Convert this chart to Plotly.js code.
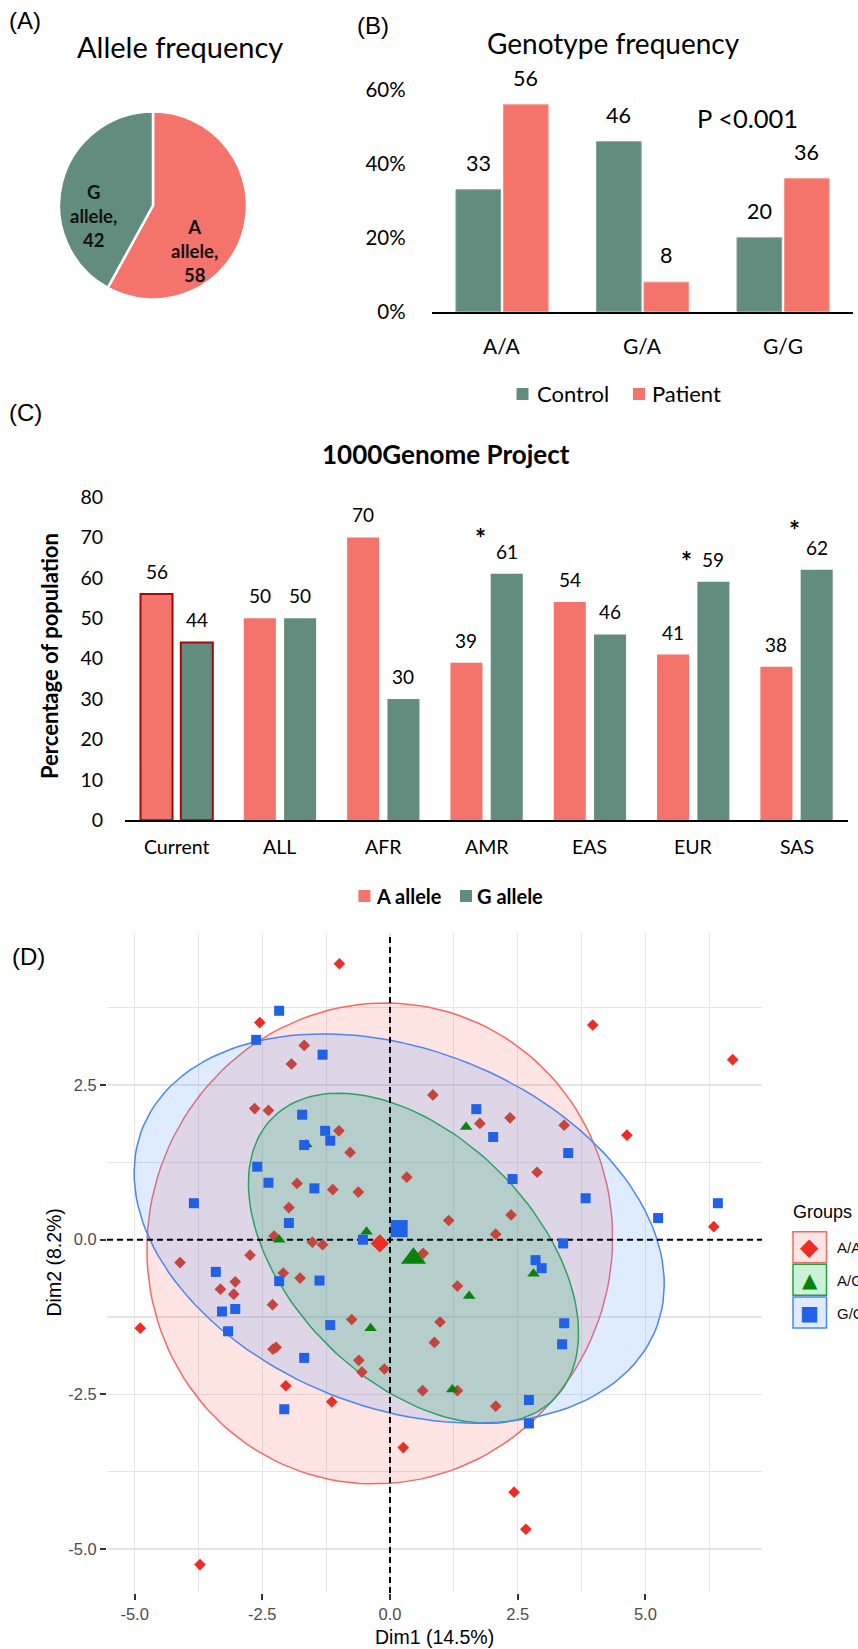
<!DOCTYPE html>
<html>
<head>
<meta charset="utf-8">
<script src="https://cdn.plot.ly/plotly-3.0.1.min.js"></script>
<style>
html,body{margin:0;padding:0;background:#fff;}
#chart{width:858px;height:1649px;}
</style>
</head>
<body>
<div id="chart"></div>
<script>
// ---------- Panel A : allele frequency ----------
const alleleLabels = ['A allele', 'G allele'];
const alleleValues = [58, 42];

// ---------- Panel B : genotype frequency ----------
const genotypes = ['A/A', 'G/A', 'G/G'];
const controlPct = [33, 46, 20];
const patientPct = [56, 8, 36];
const genotypeSeries = ['Control', 'Patient'];
const pValueText = 'P <0.001';
const bTicks = [0, 20, 40, 60];

// ---------- Panel C : 1000Genome Project ----------
const populations = ['Current', 'ALL', 'AFR', 'AMR', 'EAS', 'EUR', 'SAS'];
const aAllelePct = [56, 50, 70, 39, 54, 41, 38];
const gAllelePct = [44, 50, 30, 61, 46, 59, 62];
const alleleSeries = ['A allele', 'G allele'];
const significantPops = ['AMR', 'EUR', 'SAS'];
const cTicks = [0, 10, 20, 30, 40, 50, 60, 70, 80];

// ---------- Panel D : PCA individuals ----------
const groupNames = ['A/A', 'A/G', 'G/G'];
const aaDim1 = [-0.99,-2.55,-1.68,-1.93,-2.65,-2.38,-1.00,-0.78,-1.82,-1.12,-0.62,0.33,-1.98,-2.27,-1.52,-1.32,0.65,-4.11,-2.74,0.84,-3.03,-3.32,-3.06,-2.30,-2.09,-1.76,-4.89,-2.29,-2.23,-0.75,-0.61,-0.55,-0.11,0.64,-2.04,-1.14,0.26,-3.72,1.32,0.98,0.87,1.32,2.07,2.43,2.66,3.97,6.71,1.76,2.35,3.41,4.64,2.88,6.34,1.15,2.37,2.07];
const aaDim2 = [4.46,3.51,3.14,2.84,2.12,2.09,1.76,1.41,0.91,0.81,0.77,1.01,0.52,0.06,-0.04,-0.08,-0.22,-0.37,-0.25,2.34,-0.68,-0.80,-0.88,-1.05,-0.54,-0.62,-1.43,-1.77,-1.74,-1.29,-1.95,-2.14,-2.09,-2.44,-2.36,-2.62,-3.36,-5.25,-0.75,-1.33,-1.66,-2.44,-2.69,-4.08,-4.68,3.47,2.91,1.88,1.97,1.85,1.69,1.09,0.21,0.31,0.40,0.09];
const agDim1 = [-1.64,-2.17,-0.46,-0.38,2.81,1.55,1.22,1.49];
const agDim2 = [1.54,0.00,0.13,-1.43,-0.55,-0.91,-2.42,1.82];
const ggDim1 = [-2.17,-2.62,-1.32,-1.72,-1.68,-1.27,-1.17,-2.60,-2.38,-1.48,-3.84,-1.98,-0.53,-3.41,-3.29,-3.03,-3.17,-2.17,-1.38,-1.68,-1.17,-2.07,2.85,2.97,3.41,3.37,2.72,2.72,1.69,2.02,3.49,2.40,3.83,5.25,6.42,3.39];
const ggDim2 = [3.70,3.23,2.99,2.02,1.53,1.76,1.60,1.18,0.92,0.83,0.59,0.27,0.00,-0.52,-1.16,-1.12,-1.48,-0.67,-0.66,-1.91,-1.38,-2.74,-0.33,-0.46,-1.35,-1.69,-2.59,-2.97,2.11,1.66,1.40,0.98,0.67,0.35,0.59,-0.06];
// group means (A/A, A/G, G/G)
const meanDim1 = [-0.20, 0.46, 0.18];
const meanDim2 = [-0.06, -0.30, 0.18];
// confidence ellipses: conjugate semi-axis vectors (Dim1, Dim2 components)
const ellipseU1 = [0.392, 2.755, -0.646];
const ellipseU2 = [3.879, -2.274, 3.103];
const ellipseV1 = [4.543, 1.690, 5.150];
const ellipseV2 = [-0.242, 1.395, -0.517];
const dim1Range = [-5.541, 7.284];
const dim2Range = [-5.710, 4.957];
const dimTickVals = [-5, -2.5, 0, 2.5, 5];
const dimTickText = ['-5.0', '-2.5', '0.0', '2.5', '5.0'];
const dimMinorVals = [-6.25, -3.75, -1.25, 1.25, 3.75, 6.25];

// ---------- styling ----------
const W = 858, H = 1649;
const PX = X => X / W;
const PY = Y => 1 - Y / H;
const FXL = 'Lato, "Open Sans", sans-serif';
const FGG = '"Liberation Sans", Arial, sans-serif';
const RED = '#F4736A', GRN = '#628C7D', DARKRED = '#9E0B0B';
const GROUP_MARK = ['#EB2D26', '#0B820B', '#2161E6'];
const AA_SHADED = '#C4443E';
const GROUP_LINE = ['#F06B66', '#22A33E', '#4C86F0'];
const GROUP_FILL = ['rgba(248,118,109,0.2)', 'rgba(0,186,56,0.2)', 'rgba(97,156,255,0.2)'];
const GROUP_SYM = ['diamond', 'triangle-up', 'square'];
const GROUP_SIZE = [9, 11, 10];
const MEAN_SIZE = [14, 22, 17];

function insideEllipse(i, x, y) {
  const a = ellipseU1[i], b = ellipseV1[i], c = ellipseU2[i], d = ellipseV2[i];
  const det = a * d - b * c;
  const dx = x - meanDim1[i], dy = y - meanDim2[i];
  const cc = (d * dx - b * dy) / det, ss = (-c * dx + a * dy) / det;
  return cc * cc + ss * ss <= 1;
}

const traces = [];

// Panel A pie
traces.push({
  type: 'pie', labels: alleleLabels, values: alleleValues,
  marker: {colors: [RED, GRN], line: {color: '#ffffff', width: 2.5}},
  sort: false, direction: 'clockwise', rotation: 0,
  textinfo: 'none', hoverinfo: 'none', showlegend: false,
  domain: {x: [PX(59), PX(247)], y: [PY(299.5), PY(111.5)]}
});

// Panel B bars
const bWidth = 0.318, bOffsets = [-0.328, 0.010];
[controlPct, patientPct].forEach((vals, k) => {
  traces.push({
    type: 'bar', name: genotypeSeries[k], x: genotypes, y: vals,
    xaxis: 'x', yaxis: 'y', width: bWidth, offset: bOffsets[k],
    marker: {color: k === 0 ? GRN : RED, line: {color: k === 0 ? '#7FA497' : '#F7938C', width: 1}},
    showlegend: false, hoverinfo: 'none'
  });
});

// Panel C bars
const cWidth = 0.31, cOffsets = [-0.35, 0.04];
[aAllelePct, gAllelePct].forEach((vals, k) => {
  traces.push({
    type: 'bar', name: alleleSeries[k], x: populations, y: vals,
    xaxis: 'x2', yaxis: 'y2', width: cWidth, offset: cOffsets[k],
    marker: {
      color: k === 0 ? RED : GRN,
      line: {
        color: populations.map(p => p === 'Current' ? DARKRED : 'rgba(0,0,0,0)'),
        width: populations.map(p => p === 'Current' ? 2 : 0)
      }
    },
    showlegend: false, hoverinfo: 'none'
  });
});

// Panel D ellipses (drawn first)
groupNames.forEach((g, i) => {
  const ex = [], ey = [];
  for (let k = 0; k <= 144; k++) {
    const t = 2 * Math.PI * k / 144;
    ex.push(meanDim1[i] + ellipseU1[i] * Math.cos(t) + ellipseV1[i] * Math.sin(t));
    ey.push(meanDim2[i] + ellipseU2[i] * Math.cos(t) + ellipseV2[i] * Math.sin(t));
  }
  traces.push({
    type: 'scatter', mode: 'lines', name: g + ' ellipse', x: ex, y: ey,
    xaxis: 'x3', yaxis: 'y3', fill: 'toself', fillcolor: GROUP_FILL[i],
    line: {color: GROUP_LINE[i], width: 1.5}, showlegend: false, hoverinfo: 'skip'
  });
});
// origin reference lines (dashed)
traces.push({type: 'scatter', mode: 'lines', x: [0, 0], y: dim2Range, xaxis: 'x3', yaxis: 'y3',
  line: {color: '#000', width: 2, dash: '6px,4px'}, showlegend: false, hoverinfo: 'skip'});
traces.push({type: 'scatter', mode: 'lines', x: dim1Range, y: [0, 0], xaxis: 'x3', yaxis: 'y3',
  line: {color: '#000', width: 2, dash: '6px,4px'}, showlegend: false, hoverinfo: 'skip'});
// Panel D points
const groupX = [aaDim1, agDim1, ggDim1];
const groupY = [aaDim2, agDim2, ggDim2];
groupNames.forEach((g, i) => {
  const colors = i === 0
    ? groupX[0].map((x, k) => insideEllipse(2, x, groupY[0][k]) ? AA_SHADED : GROUP_MARK[0])
    : GROUP_MARK[i];
  traces.push({
    type: 'scatter', mode: 'markers', name: g, x: groupX[i], y: groupY[i],
    xaxis: 'x3', yaxis: 'y3', showlegend: false, hoverinfo: 'none',
    marker: {symbol: GROUP_SYM[i], size: GROUP_SIZE[i], color: colors, line: {width: 0}}
  });
});
// Panel D group means
groupNames.forEach((g, i) => {
  traces.push({
    type: 'scatter', mode: 'markers', name: g + ' mean', x: [meanDim1[i]], y: [meanDim2[i]],
    xaxis: 'x3', yaxis: 'y3', showlegend: false, hoverinfo: 'none',
    marker: {symbol: GROUP_SYM[i], size: MEAN_SIZE[i], color: GROUP_MARK[i], line: {width: 0}}
  });
});

// ---------- annotations ----------
const ann = [];
function txt(text, X, Y, font, extra) {
  ann.push(Object.assign({
    text: text, x: PX(X), y: PY(Y), xref: 'paper', yref: 'paper',
    showarrow: false, xanchor: 'center', yanchor: 'middle', font: font
  }, extra || {}));
}
const fPanel = {family: FGG, size: 24, color: '#000'};
txt('(A)', 7, 20.5, fPanel, {xanchor: 'left'});
txt('(B)', 355, 26, fPanel, {xanchor: 'left'});
txt('(C)', 7, 412, fPanel, {xanchor: 'left'});
txt('(D)', 10, 956, fPanel, {xanchor: 'left'});

// Panel A
txt('Allele frequency', 179.5, 46.5, {family: FXL, size: 29, color: '#000'});
const pieLabelPos = [[194.5, 251], [93, 216]];
alleleLabels.forEach((l, i) => {
  txt(l.split(' ').join('<br>') + ',<br>' + alleleValues[i], pieLabelPos[i][0], pieLabelPos[i][1],
      {family: FXL, size: 18.5, color: '#111', weight: 700});
});

// Panel B
txt('Genotype frequency', 613.5, 43, {family: FXL, size: 28, color: '#000'});
txt(pValueText, 747.5, 118.5, {family: FXL, size: 25.5, color: '#000'});
[controlPct, patientPct].forEach((vals, k) => {
  vals.forEach((v, i) => {
    ann.push({text: String(v), x: i + bOffsets[k] + bWidth / 2, y: v, xref: 'x', yref: 'y',
      showarrow: false, xanchor: 'center', yanchor: 'middle', yshift: 27,
      font: {family: FXL, size: 21.5, color: '#000'}});
  });
});
// category labels B
genotypes.forEach((g, i) => {
  ann.push({text: g, x: i, y: PY(345), xref: 'x', yref: 'paper', showarrow: false,
    xanchor: 'center', yanchor: 'middle', font: {family: FXL, size: 21, color: '#000'}});
});
// legend B
const fLegB = {family: FXL, size: 22, color: '#000'};
txt(genotypeSeries[0], 535, 393.5, fLegB, {xanchor: 'left'});
txt(genotypeSeries[1], 650, 393.5, fLegB, {xanchor: 'left'});

// Panel C
txt('1000Genome Project', 445.5, 453.5, {family: FXL, size: 26, color: '#000', weight: 700});
txt('Percentage of population', 50, 656, {family: FXL, size: 22, color: '#000', weight: 700}, {textangle: -90});
[aAllelePct, gAllelePct].forEach((vals, k) => {
  vals.forEach((v, i) => {
    ann.push({text: String(v), x: i + cOffsets[k] + cWidth / 2, y: v, xref: 'x2', yref: 'y2',
      showarrow: false, xanchor: 'center', yanchor: 'middle', yshift: 22.5,
      font: {family: FXL, size: 19, color: '#000'}});
  });
});
// category labels C
populations.forEach((p, i) => {
  ann.push({text: p, x: i, y: PY(846.7), xref: 'x2', yref: 'paper', showarrow: false,
    xanchor: 'center', yanchor: 'middle', font: {family: FXL, size: 19.5, color: '#000'}});
});
const starShift = {AMR: [-26, 35.5], EUR: [-26.5, 20.5], SAS: [-22, 40]};
significantPops.forEach(p => {
  const i = populations.indexOf(p);
  ann.push({text: '*', x: i + cOffsets[1] + cWidth / 2, y: gAllelePct[i], xref: 'x2', yref: 'y2',
    showarrow: false, xanchor: 'center', yanchor: 'middle',
    xshift: starShift[p][0], yshift: starShift[p][1],
    font: {family: FXL, size: 26, color: '#000', weight: 700}});
});
const fLegC = {family: FXL, size: 20, color: '#000', weight: 700};
txt(alleleSeries[0], 374, 895.8, fLegC, {xanchor: 'left'});
txt(alleleSeries[1], 475, 895.8, fLegC, {xanchor: 'left'});

// Panel D
txt('Dim1 (14.5%)', 434.5, 1636.5, {family: FGG, size: 19.5, color: '#000'});
txt('Dim2 (8.2%)', 53.5, 1263, {family: FGG, size: 19.5, color: '#000'}, {textangle: -90});
txt('Groups', 791, 1211.5, {family: FGG, size: 18, color: '#000'}, {xanchor: 'left'});
const legSymbols = ['\u25C6', '\u25B2', '\u25A0'];
const legBoxTop = [1231.7, 1264.3, 1297];
groupNames.forEach((g, i) => {
  txt(legSymbols[i], 809.7, legBoxTop[i] + 15.5, {family: '"DejaVu Sans", sans-serif', size: i === 0 ? 24 : 20, color: GROUP_MARK[i]});
  txt(g, 835, legBoxTop[i] + 16, {family: FGG, size: 15, color: '#111'}, {xanchor: 'left'});
});

// ---------- shapes (legend keys) ----------
const shapes = [];
function rectPx(x0, y0, x1, y1, fill, line, lw) {
  shapes.push({type: 'rect', xref: 'paper', yref: 'paper', x0: PX(x0), x1: PX(x1), y0: PY(y1), y1: PY(y0),
    fillcolor: fill, line: {color: line || fill, width: lw || 0}, layer: 'above'});
}
rectPx(516.5, 388, 528.5, 400, GRN);
rectPx(633, 388, 645, 400, RED);
rectPx(358.4, 890, 370.4, 902, RED);
rectPx(460, 890, 472, 902, GRN);
groupNames.forEach((g, i) => {
  rectPx(793, legBoxTop[i], 826.5, legBoxTop[i] + 31, GROUP_FILL[i], GROUP_LINE[i], 1.5);
});

// ---------- layout ----------
const layout = {
  width: W, height: H, margin: {l: 0, r: 0, t: 0, b: 0},
  paper_bgcolor: '#ffffff', plot_bgcolor: 'rgba(0,0,0,0)',
  showlegend: false, hovermode: false,
  xaxis: {
    domain: [PX(431.8), PX(853.3)], anchor: 'y', type: 'category', range: [-0.5, 2.5],
    showline: true, linecolor: '#000', linewidth: 2, showgrid: false, zeroline: false,
    showticklabels: false, ticks: '', fixedrange: true
  },
  yaxis: {
    domain: [PY(311.7), PY(71.5)], anchor: 'x', range: [0, 65],
    tickmode: 'array', tickvals: bTicks, ticktext: bTicks.map(v => v + '%'),
    showline: false, showgrid: false, zeroline: false,
    ticks: 'outside', ticklen: 21, tickcolor: 'rgba(0,0,0,0)',
    tickfont: {family: FXL, size: 20.5, color: '#000'}, fixedrange: true
  },
  xaxis2: {
    domain: [PX(125), PX(848.2)], anchor: 'y2', type: 'category', range: [-0.5, 6.5],
    showline: true, linecolor: '#000', linewidth: 2, showgrid: false, zeroline: false,
    showticklabels: false, ticks: '', fixedrange: true
  },
  yaxis2: {
    domain: [PY(820.3), PY(497)], anchor: 'x2', range: [0, 80],
    tickmode: 'array', tickvals: cTicks,
    showline: false, showgrid: false, zeroline: false,
    ticks: 'outside', ticklen: 17, tickcolor: 'rgba(0,0,0,0)',
    tickfont: {family: FXL, size: 19.5, color: '#000'}, fixedrange: true
  },
  xaxis3: {
    domain: [PX(107), PX(762)], anchor: 'y3', range: dim1Range,
    tickmode: 'array', tickvals: dimTickVals, ticktext: dimTickText,
    ticks: 'outside', ticklen: 6, tickwidth: 2, tickcolor: '#333',
    showgrid: true, gridcolor: '#E4E4E4', gridwidth: 1.2, zeroline: false, showline: false,
    minor: {tickmode: 'array', tickvals: dimMinorVals, showgrid: true, gridcolor: '#E4E4E4', gridwidth: 1.2, ticks: ''},
    tickfont: {family: FGG, size: 16.5, color: '#4D4D4D'}, fixedrange: true
  },
  yaxis3: {
    domain: [PY(1593), PY(933)], anchor: 'x3', range: dim2Range,
    tickmode: 'array', tickvals: dimTickVals, ticktext: dimTickText,
    ticks: 'outside', ticklen: 6, tickwidth: 2, tickcolor: '#333',
    showgrid: true, gridcolor: '#E4E4E4', gridwidth: 1.2, zeroline: false, showline: false,
    minor: {tickmode: 'array', tickvals: dimMinorVals, showgrid: true, gridcolor: '#E4E4E4', gridwidth: 1.2, ticks: ''},
    tickfont: {family: FGG, size: 16.5, color: '#4D4D4D'}, fixedrange: true
  },
  annotations: ann,
  shapes: shapes
};

Plotly.newPlot('chart', traces, layout, {displayModeBar: false, staticPlot: true});
</script>
</body>
</html>
